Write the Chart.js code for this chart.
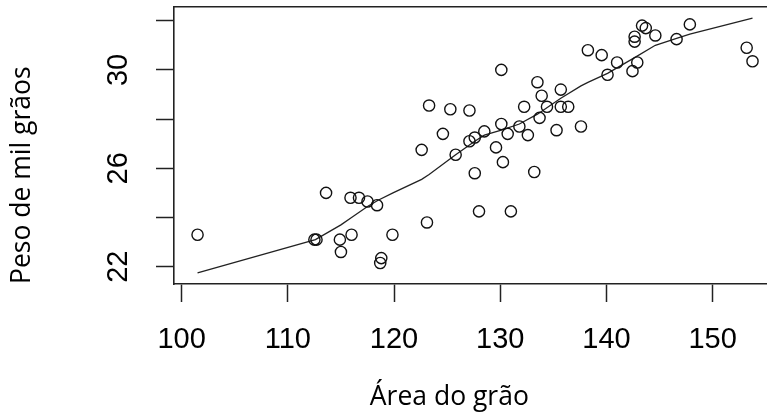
<!DOCTYPE html>
<html>
<head>
<meta charset="utf-8">
<script src="https://cdn.jsdelivr.net/npm/chart.js@4.4.0/dist/chart.umd.min.js"></script>
<style>
  body { margin: 0; background: #fff; }
  canvas { display: block; }
</style>
</head>
<body>
<canvas id="myChart" width="773" height="415"></canvas>
<script>
// Área do grão (x) vs Peso de mil grãos (y)
const areaGrao = [
  101.5, 112.5, 112.7, 113.6, 114.9, 115.0, 115.9, 116.0, 116.7, 117.5,
  118.4, 118.8, 118.7, 119.85, 123.1, 122.6, 123.3, 124.6, 125.3, 125.8,
  127.1, 127.1, 127.6, 127.6, 128.0, 128.5, 129.6, 130.1, 130.1, 130.25,
  130.7, 131.0, 131.8, 132.25, 132.6, 133.2, 133.5, 133.9, 133.7, 134.4,
  135.3, 135.7, 135.7, 136.4, 137.6, 138.25, 139.55, 140.1, 141.0, 142.45,
  142.9, 142.65, 142.65, 143.35, 143.7, 144.6, 146.6, 147.85, 153.2, 153.75
];
const pesoMil = [
  23.3, 23.1, 23.1, 25.0, 23.1, 22.6, 24.8, 23.3, 24.8, 24.65,
  24.5, 22.35, 22.15, 23.3, 23.8, 26.75, 28.55, 27.4, 28.4, 26.55,
  28.35, 27.1, 27.25, 25.8, 24.25, 27.5, 26.85, 30.0, 27.8, 26.25,
  27.4, 24.25, 27.7, 28.5, 27.35, 25.85, 29.5, 28.95, 28.05, 28.5,
  27.55, 29.2, 28.5, 28.5, 27.7, 30.8, 30.6, 29.8, 30.3, 29.95,
  30.3, 31.35, 31.15, 31.8, 31.7, 31.4, 31.25, 31.85, 30.9, 30.35
];

// lowess curve
const lowessX = [101.5, 112.6, 115.0, 116.0, 117.5, 118.5, 119.9, 122.6, 123.3, 125.8, 127.6, 128.5,
  130.1, 131.8, 133.5, 135.7, 137.6, 138.3, 140.1, 142.65, 144.6, 146.6, 147.85, 153.75];
const lowessY = [21.75, 23.1, 23.7, 24.0, 24.45, 24.7, 25.0, 25.55, 25.75, 26.55, 27.1, 27.35,
  27.55, 27.8, 28.2, 28.85, 29.35, 29.5, 29.86, 30.5, 31.0, 31.28, 31.45, 32.1];

const xTicks = [100, 110, 120, 130, 140, 150];
const yTicks = [22, 24, 26, 28, 30, 32];
const yTickLabels = [22, 26, 30];

const ctx = document.querySelector("#myChart");

const points = areaGrao.map((x, i) => ({ x: x, y: pesoMil[i] }));
const curve = lowessX.map((x, i) => ({ x: x, y: lowessY[i] }));

const frame = '#222';
const tickFont = { family: "'Liberation Sans', Arial, sans-serif", size: 29 };
const titleFont = { family: "'Open Sans', sans-serif", size: 26.5 };

// no extra room for overflowing labels, the box sits where R put it
const noPad = (scale) => {
  scale.paddingTop = 0;
  scale.paddingBottom = 0;
  scale.paddingLeft = 0;
  scale.paddingRight = 0;
};

new Chart(ctx, {
  type: 'scatter',
  data: {
    datasets: [
      {
        data: points,
        pointStyle: 'circle',
        pointRadius: 5.6,
        pointBorderWidth: 1.4,
        pointBorderColor: '#111',
        pointBackgroundColor: 'rgba(0,0,0,0)',
        showLine: false
      },
      {
        type: 'line',
        data: curve,
        borderColor: '#222',
        borderWidth: 1.3,
        pointRadius: 0,
        tension: 0,
        fill: false
      }
    ]
  },
  options: {
    responsive: false,
    animation: false,
    layout: { padding: 0 },
    plugins: { legend: { display: false }, tooltip: { enabled: false } },
    scales: {
      x: {
        type: 'linear',
        position: 'bottom',
        min: 99.283,
        max: 155.02,
        afterBuildTicks: (scale) => { scale.ticks = xTicks.map(v => ({ value: v })); },
        afterFit: (scale) => { scale.height = 131; noPad(scale); },
        grid: { drawOnChartArea: false, drawTicks: true, tickLength: 18, tickColor: frame, tickWidth: 1.5 },
        border: { display: true, color: frame, width: 1.6 },
        ticks: {
          autoSkip: false,
          maxRotation: 0,
          padding: 21,
          color: '#000',
          font: tickFont
        },
        title: {
          display: true,
          text: 'Área do grão' + '\u00a0'.repeat(6),
          color: '#000',
          font: titleFont,
          padding: { top: 0, bottom: 2 }
        }
      },
      x2: {
        type: 'linear',
        position: 'top',
        min: 99.283,
        max: 155.02,
        afterFit: (scale) => { scale.height = 7; noPad(scale); },
        grid: { drawOnChartArea: false, drawTicks: false },
        border: { display: true, color: frame, width: 1.6 },
        ticks: { display: false }
      },
      y: {
        type: 'linear',
        position: 'left',
        min: 21.297,
        max: 32.557,
        afterBuildTicks: (scale) => { scale.ticks = yTicks.map(v => ({ value: v })); },
        afterFit: (scale) => { scale.width = 174; noPad(scale); },
        grid: { drawOnChartArea: false, drawTicks: true, tickLength: 18, tickColor: frame, tickWidth: 1.5 },
        border: { display: true, color: frame, width: 1.6 },
        ticks: {
          autoSkip: false,
          minRotation: 90,
          maxRotation: 90,
          crossAlign: 'center',
          padding: 21,
          color: '#000',
          font: tickFont,
          callback: (value) => yTickLabels.includes(value) ? String(value) : ''
        },
        title: {
          display: true,
          text: 'Peso de mil grãos',
          align: 'start',
          color: '#000',
          font: titleFont,
          padding: { top: 7, bottom: 0 }
        }
      }
    }
  }
});
</script>
</body>
</html>
